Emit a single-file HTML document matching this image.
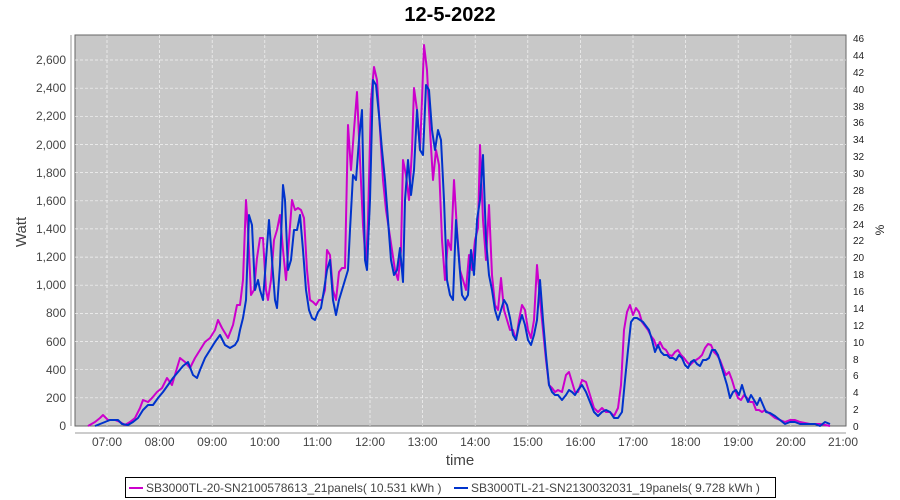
<!DOCTYPE html>
<html><head><meta charset="utf-8"><style>
body{margin:0;background:#fff;}
svg{display:block;font-family:"Liberation Sans",sans-serif;}
</style></head><body>
<svg width="900" height="500" viewBox="0 0 900 500">
<text x="450" y="21" text-anchor="middle" font-size="20" font-weight="bold" fill="#000">12-5-2022</text>
<rect x="75" y="35" width="771" height="391" fill="#c8c8c8" stroke="#666" stroke-width="1"/>
<g stroke="#fff" stroke-width="0.7" stroke-dasharray="3,2" opacity="0.8">
<line x1="107" y1="35" x2="107" y2="426"/><line x1="159.6" y1="35" x2="159.6" y2="426"/><line x1="212.2" y1="35" x2="212.2" y2="426"/><line x1="264.8" y1="35" x2="264.8" y2="426"/><line x1="317.4" y1="35" x2="317.4" y2="426"/><line x1="370" y1="35" x2="370" y2="426"/><line x1="422.6" y1="35" x2="422.6" y2="426"/><line x1="475.2" y1="35" x2="475.2" y2="426"/><line x1="527.8" y1="35" x2="527.8" y2="426"/><line x1="580.4" y1="35" x2="580.4" y2="426"/><line x1="633" y1="35" x2="633" y2="426"/><line x1="685.6" y1="35" x2="685.6" y2="426"/><line x1="738.2" y1="35" x2="738.2" y2="426"/><line x1="790.8" y1="35" x2="790.8" y2="426"/>
<line x1="75" y1="60" x2="846" y2="60"/><line x1="75" y1="88.2" x2="846" y2="88.2"/><line x1="75" y1="116.3" x2="846" y2="116.3"/><line x1="75" y1="144.5" x2="846" y2="144.5"/><line x1="75" y1="172.6" x2="846" y2="172.6"/><line x1="75" y1="200.8" x2="846" y2="200.8"/><line x1="75" y1="228.9" x2="846" y2="228.9"/><line x1="75" y1="257.1" x2="846" y2="257.1"/><line x1="75" y1="285.2" x2="846" y2="285.2"/><line x1="75" y1="313.4" x2="846" y2="313.4"/><line x1="75" y1="341.5" x2="846" y2="341.5"/><line x1="75" y1="369.7" x2="846" y2="369.7"/><line x1="75" y1="397.8" x2="846" y2="397.8"/>
</g>
<g stroke="#999" stroke-width="1">
<line x1="71" y1="35" x2="71" y2="426"/>
<line x1="75" y1="433" x2="846" y2="433"/>
</g>
<g font-size="12" fill="#444" text-anchor="end">
<text x="66" y="64">2,600</text><text x="66" y="92">2,400</text><text x="66" y="120">2,200</text><text x="66" y="149">2,000</text><text x="66" y="177">1,800</text><text x="66" y="205">1,600</text><text x="66" y="233">1,400</text><text x="66" y="261">1,200</text><text x="66" y="289">1,000</text><text x="66" y="317">800</text><text x="66" y="346">600</text><text x="66" y="374">400</text><text x="66" y="402">200</text><text x="66" y="430">0</text>
</g>
<g font-size="10" fill="#222" text-anchor="start">
<text x="853" y="42">46</text><text x="853" y="59">44</text><text x="853" y="76">42</text><text x="853" y="93">40</text><text x="853" y="110">38</text><text x="853" y="126">36</text><text x="853" y="143">34</text><text x="853" y="160">32</text><text x="853" y="177">30</text><text x="853" y="194">28</text><text x="853" y="211">26</text><text x="853" y="228">24</text><text x="853" y="244">22</text><text x="853" y="261">20</text><text x="853" y="278">18</text><text x="853" y="295">16</text><text x="853" y="312">14</text><text x="853" y="329">12</text><text x="853" y="346">10</text><text x="853" y="363">8</text><text x="853" y="379">6</text><text x="853" y="396">4</text><text x="853" y="413">2</text><text x="853" y="430">0</text>
</g>
<g font-size="12" fill="#444" text-anchor="middle">
<text x="107" y="446">07:00</text><text x="159.6" y="446">08:00</text><text x="212.2" y="446">09:00</text><text x="264.8" y="446">10:00</text><text x="317.4" y="446">11:00</text><text x="370" y="446">12:00</text><text x="422.6" y="446">13:00</text><text x="475.2" y="446">14:00</text><text x="527.8" y="446">15:00</text><text x="580.4" y="446">16:00</text><text x="633" y="446">17:00</text><text x="685.6" y="446">18:00</text><text x="738.2" y="446">19:00</text><text x="790.8" y="446">20:00</text><text x="843" y="446">21:00</text>
</g>
<text x="460" y="465" text-anchor="middle" font-size="15" fill="#444">time</text>
<text transform="translate(26,232) rotate(-90)" text-anchor="middle" font-size="15" fill="#444">Watt</text>
<text transform="translate(884,230) rotate(-90)" text-anchor="middle" font-size="12" fill="#222">%</text>
<polyline fill="none" stroke="#cc00cc" stroke-width="2" stroke-linejoin="round" points="88,426 95,422 100,418 103,415 108,420 115,420 120,422 125,425 130,422 135,418 140,408 143,400 148,402 152,398 157,392 162,388 167,378 172,385 177,368 180,358 185,362 190,368 195,358 200,350 205,342 210,338 215,330 218,320 222,328 228,338 233,325 237,305 240,305 243,280 246,200 248,230 251,295 254,290 257,258 260,238 263,238 266,290 268,300 271,280 274,240 277,230 280,215 283,250 286,280 289,240 292,200 295,210 298,208 301,210 304,218 307,270 310,300 313,302 316,305 319,300 322,300 325,290 327,250 330,255 333,290 336,300 339,272 342,268 345,268 348,125 351,170 354,130 357,92 360,160 363,225 366,265 368,220 371,100 374,67 377,80 380,130 383,180 386,210 389,230 392,250 395,270 398,280 401,250 403,160 406,175 409,200 412,150 414,88 417,110 420,150 422,100 424,45 427,70 430,130 433,180 436,150 439,165 442,240 445,280 448,240 451,250 454,180 457,230 460,270 463,280 466,290 469,255 472,270 475,240 478,228 480,145 483,220 486,260 489,205 492,275 495,305 498,310 501,278 504,310 507,320 510,330 513,330 516,340 519,320 522,305 525,310 528,330 531,338 534,320 537,265 540,300 543,330 546,360 549,385 552,388 555,392 558,390 562,392 566,375 569,372 572,382 575,392 578,392 582,380 586,382 590,395 594,408 598,412 602,408 606,412 610,412 614,416 618,408 621,385 624,330 627,312 630,305 633,315 636,308 639,312 642,322 645,326 648,330 651,336 654,340 657,348 660,342 663,348 666,350 669,355 672,356 675,352 678,350 681,355 684,358 687,362 690,365 693,362 696,360 699,358 702,355 705,348 708,344 711,345 714,352 717,355 720,360 723,368 726,375 729,372 732,380 735,390 738,398 741,400 744,395 747,398 750,402 753,402 756,410 759,410 762,412 765,410 770,414 775,418 780,420 785,422 790,420 795,420 800,422 805,423 810,424 815,424 820,424 825,425 830,426"/>
<polyline fill="none" stroke="#0033cc" stroke-width="2" stroke-linejoin="round" points="95,426 100,424 105,422 110,420 118,420 122,424 128,425 133,422 138,418 143,410 148,405 153,405 158,398 163,392 168,385 173,378 178,372 183,366 188,362 193,375 197,378 200,370 205,358 210,350 215,342 220,335 225,345 230,348 235,345 238,340 240,330 243,318 246,300 249,215 252,225 255,290 258,280 260,290 263,300 266,260 269,220 272,260 275,300 277,308 280,265 283,185 285,200 288,270 291,260 294,230 297,230 300,215 303,250 306,290 309,310 312,318 315,320 318,312 321,308 324,290 327,270 330,260 333,300 336,315 339,300 342,290 345,280 348,270 350,230 353,175 356,180 359,140 362,110 365,260 367,270 370,200 373,80 376,85 379,115 382,150 385,180 388,220 391,260 394,275 397,270 400,248 403,282 405,200 408,160 411,195 414,170 417,110 420,150 423,155 426,85 429,90 432,130 435,150 438,130 441,140 444,200 447,280 450,295 453,300 456,220 459,260 462,295 465,300 468,295 471,250 474,275 477,220 480,200 483,155 486,240 489,275 492,290 495,310 498,320 501,310 504,300 507,305 510,318 513,335 516,340 519,325 522,315 525,325 528,340 531,345 534,335 537,320 540,280 543,320 546,355 549,385 552,392 555,395 558,395 562,400 566,395 569,390 572,392 575,395 578,390 582,385 586,392 590,402 594,412 598,416 602,412 606,410 610,412 614,418 618,418 622,412 625,380 628,350 631,322 634,318 637,318 640,320 643,322 646,326 649,330 652,340 655,352 658,345 661,352 664,355 667,355 670,358 673,358 676,360 679,355 682,358 685,365 688,368 691,362 694,360 697,364 700,366 703,360 706,360 709,358 712,350 715,350 718,355 721,365 724,375 727,385 730,398 733,392 736,390 739,395 742,385 745,395 748,402 751,395 754,400 757,405 760,398 763,405 766,412 770,413 775,416 780,420 785,424 790,422 795,422 800,424 805,424 810,424 815,424 820,426 825,422 830,424"/>
<rect x="125.5" y="477.5" width="650" height="20" fill="#fff" stroke="#000" stroke-width="1"/>
<line x1="129" y1="488" x2="143" y2="488" stroke="#cc00cc" stroke-width="2"/>
<text x="146" y="492" font-size="12" fill="#444">SB3000TL-20-SN2100578613_21panels( 10.531 kWh )</text>
<line x1="454" y1="488" x2="468" y2="488" stroke="#0033cc" stroke-width="2"/>
<text x="471" y="492" font-size="12" fill="#444">SB3000TL-21-SN2130032031_19panels( 9.728 kWh )</text>
</svg>
</body></html>
